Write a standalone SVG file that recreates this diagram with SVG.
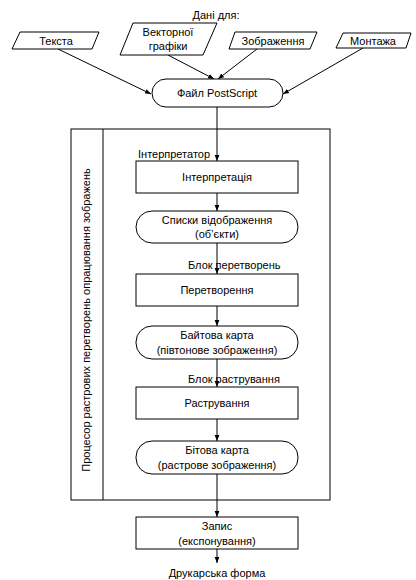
<svg xmlns="http://www.w3.org/2000/svg" width="416" height="580" viewBox="0 0 416 580">
<style>
.s{fill:#fff;stroke:#000;stroke-width:1}
.t{font-family:"Liberation Sans",Arial,sans-serif;font-size:11px;fill:#000}
.m{text-anchor:middle}
.c{fill:none;stroke:#000;stroke-width:1}
</style>
<defs>
<marker id="a" viewBox="0 0 6 6" refX="6" refY="3" markerWidth="6" markerHeight="6" markerUnits="userSpaceOnUse" orient="auto">
<path d="M0,0.6 L6,3 L0,5.4 Z" fill="#000"/>
</marker>
</defs>
<rect width="416" height="580" fill="#fff"/>
<text class="t m" x="216" y="19">Дані для:</text>
<g id="outer">
<rect class="s" x="71" y="129" width="259" height="371"/>
<line class="c" x1="103" y1="129" x2="103" y2="500"/>
<text class="t m" transform="translate(90,320) rotate(-90)">Процесор растрових перетворень опрацювання зображень</text>
</g>
<g id="connectors">
<line class="c" x1="58" y1="49" x2="151" y2="94" marker-end="url(#a)"/>
<line class="c" x1="168" y1="55" x2="214" y2="79" marker-end="url(#a)"/>
<line class="c" x1="257" y1="49" x2="218" y2="79" marker-end="url(#a)"/>
<line class="c" x1="363" y1="48" x2="283" y2="94" marker-end="url(#a)"/>
<line class="c" x1="217" y1="107" x2="217" y2="161" marker-end="url(#a)"/>
<line class="c" x1="217" y1="193" x2="217" y2="211" marker-end="url(#a)"/>
<line class="c" x1="217" y1="243" x2="217" y2="274" marker-end="url(#a)"/>
<line class="c" x1="217" y1="306" x2="217" y2="326" marker-end="url(#a)"/>
<line class="c" x1="217" y1="359" x2="217" y2="387" marker-end="url(#a)"/>
<line class="c" x1="217" y1="419" x2="217" y2="441" marker-end="url(#a)"/>
<line class="c" x1="217" y1="474" x2="217" y2="517" marker-end="url(#a)"/>
<line class="c" x1="217" y1="549" x2="217" y2="563" marker-end="url(#a)"/>
</g>
<g id="in1"><polygon class="s" points="20,32 99,32 92,49 12,49"/><text class="t m" x="56" y="45">Текста</text></g>
<g id="in2"><polygon class="s" points="133,23 217,23 203,55 120,55"/><text class="t m" x="168" y="36">Векторної</text><text class="t m" x="168" y="50">графіки</text></g>
<g id="in3"><polygon class="s" points="235,32 317,32 310,49 229,49"/><text class="t m" x="273" y="45">Зображення</text></g>
<g id="in4"><polygon class="s" points="343,33 411,33 406,48 336,48"/><text class="t m" x="373" y="45">Монтажа</text></g>
<g id="ps"><rect class="s" x="152" y="79" width="131" height="28" rx="14"/><text class="t m" x="217" y="97">Файл PostScript</text></g>
<text class="t" x="138" y="158">Інтерпретатор</text>
<g id="n1"><rect class="s" x="136" y="161" width="162" height="32"/><text class="t m" x="217" y="181">Інтерпретація</text></g>
<g id="n2"><rect class="s" x="136" y="211" width="162" height="32" rx="16"/><text class="t m" x="217" y="224">Списки відображення</text><text class="t m" x="217" y="238">(об’єкти)</text></g>
<text class="t" x="188" y="269">Блок  перетворень</text>
<g id="n3"><rect class="s" x="136" y="274" width="162" height="32"/><text class="t m" x="217" y="294">Перетворення</text></g>
<g id="n4"><rect class="s" x="136" y="326" width="162" height="33" rx="16"/><text class="t m" x="217" y="339">Байтова карта</text><text class="t m" x="217" y="354">(півтонове зображення)</text></g>
<text class="t" x="188" y="383">Блок  растрування</text>
<g id="n5"><rect class="s" x="136" y="387" width="162" height="32"/><text class="t m" x="217" y="407">Растрування</text></g>
<g id="n6"><rect class="s" x="136" y="441" width="162" height="33" rx="16"/><text class="t m" x="217" y="454">Бітова карта</text><text class="t m" x="217" y="469">(растрове зображення)</text></g>
<g id="n7"><rect class="s" x="136" y="517" width="162" height="32"/><text class="t m" x="217" y="530">Запис</text><text class="t m" x="217" y="545">(експонування)</text></g>
<text class="t m" x="217" y="577">Друкарська форма</text>
</svg>
